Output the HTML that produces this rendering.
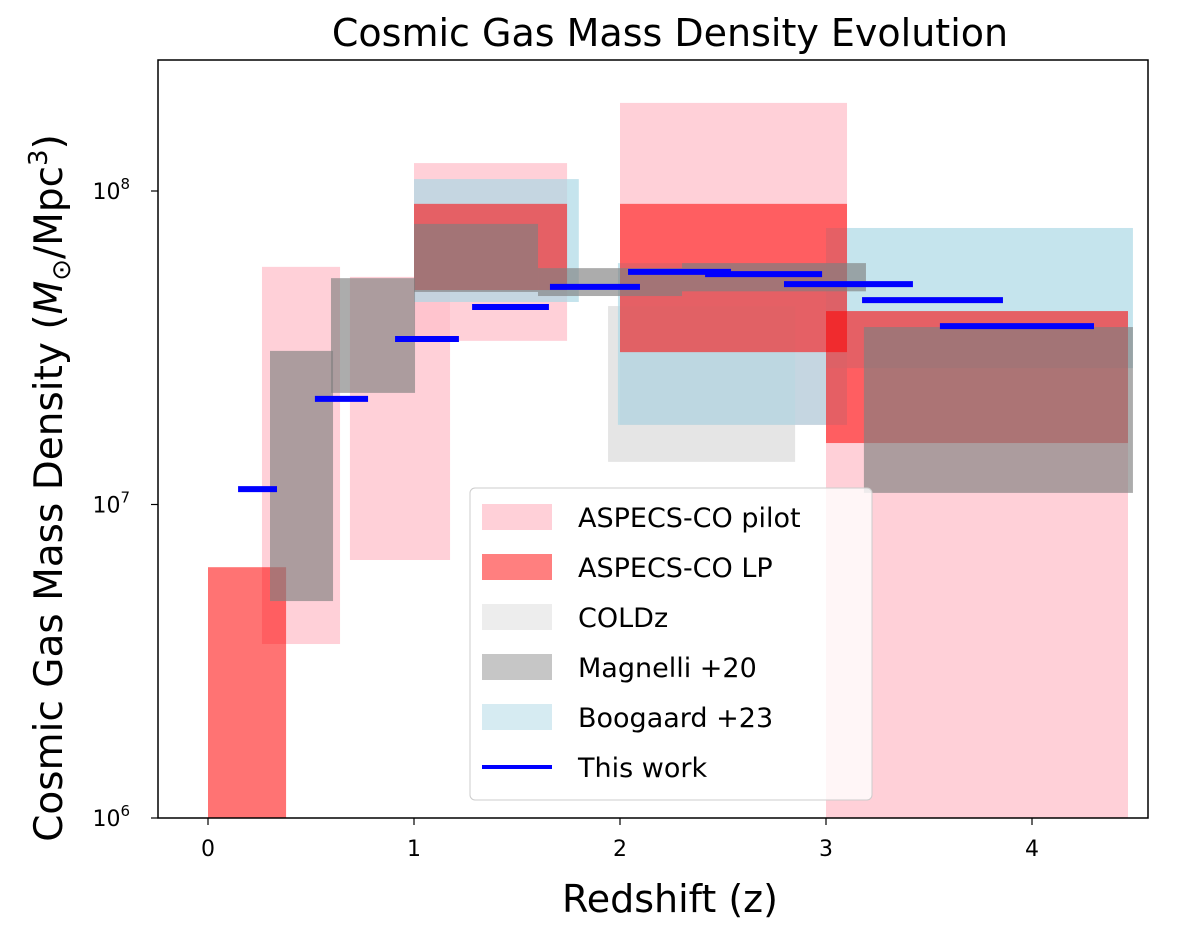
<!DOCTYPE html>
<html><head><meta charset="utf-8"><style>
body{margin:0;background:#fff}
svg text{font-family:"DejaVu Sans","Liberation Sans",sans-serif;fill:#000}
</style></head><body>
<svg id="chart" width="1200" height="926" xmlns="http://www.w3.org/2000/svg">
<text x="670" y="46" font-size="38" text-anchor="middle">Cosmic Gas Mass Density Evolution</text>
<g id="marks"></g>
<rect x="158" y="60" width="990" height="758" fill="none" stroke="#000" stroke-width="1.5"/>
<g id="axes"></g>
<text x="670" y="912" font-size="38" text-anchor="middle">Redshift (z)</text>
<text transform="translate(62,488) rotate(-90)" font-size="39" text-anchor="middle">Cosmic Gas Mass Density (<tspan font-style="italic">M</tspan><tspan font-size="26" dy="8">⊙</tspan><tspan dy="-8">/Mpc</tspan><tspan font-size="26" dy="-15">3</tspan><tspan dy="15">)</tspan></text>
<g id="legend"></g>
</svg>
<script>
// data: [zmin, zmax, log10(low), log10(high)]
const pilotBoxes=[[0.262,0.641,6.555,7.758],[0.689,1.175,6.823,7.726],[1.0,1.743,7.522,8.089],[2.0,3.102,7.254,8.281],[3.0,4.466,6.0,7.617]];
const lpBoxes=[[0.0,0.379,6.0,6.80],[1.0,1.743,7.684,7.959],[2.0,3.102,7.486,7.959],[3.0,4.466,7.196,7.617]];
const coldzBoxes=[[1.942,2.85,7.136,7.633]];
const magnelliBoxes=[[0.301,0.607,6.692,7.490],[0.597,1.005,7.356,7.722],[1.0,1.602,7.678,7.895],[1.602,2.301,7.665,7.754],[2.301,3.194,7.68,7.77],[3.184,4.49,7.037,7.566]];
const boogaardBoxes=[[1.0,1.80,7.646,8.038],[1.99,3.102,7.254,7.77],[3.0,4.49,7.435,7.882]];
const thisWorkZ=[[0.146,0.335],[0.519,0.777],[0.908,1.218],[1.282,1.655],[1.66,2.097],[2.039,2.539],[2.413,2.981],[2.796,3.422],[3.175,3.859],[3.553,4.301]];
const thisWorkLog=[7.049,7.337,7.528,7.630,7.694,7.742,7.735,7.703,7.652,7.569];
const xTicks=[0,1,2,3,4];
const yTicks=[6,7,8];

const NS="http://www.w3.org/2000/svg";
const X=z=>208+206*z;
const Y=l=>818-313.5*(l-6);
function mk(t,a,p){const e=document.createElementNS(NS,t);for(const k in a)e.setAttribute(k,a[k]);p.appendChild(e);return e;}
const marks=document.getElementById('marks');
const series=[[pilotBoxes,'#ffc0cb',0.75,'pilot-box'],[coldzBoxes,'#d3d3d3',0.6,'coldz-box'],[boogaardBoxes,'#add8e6',0.7,'boogaard-box'],[lpBoxes,'#ff0000',0.55,'lp-box'],[magnelliBoxes,'#808080',0.65,'magnelli-box']];
series.forEach(([arr,c,o,n])=>arr.forEach((b,i)=>{
 const r=mk('rect',{x:X(b[0]),y:Y(b[3]),width:X(b[1])-X(b[0]),height:Y(b[2])-Y(b[3]),fill:c,'fill-opacity':o},marks);
 
 
}));
thisWorkZ.forEach((z,i)=>{
 const l=mk('line',{x1:X(z[0]),x2:X(z[1]),y1:Y(thisWorkLog[i]),y2:Y(thisWorkLog[i]),stroke:'#0000ff','stroke-width':6},marks);
 
 
});
const ax=document.getElementById('axes');
xTicks.forEach(t=>{
 mk('line',{x1:X(t),x2:X(t),y1:818,y2:825,stroke:'#000','stroke-width':1.2},ax);
 const tx=mk('text',{x:X(t),y:856,'font-size':22,'text-anchor':'middle'},ax);tx.textContent=t;
 
 
});
yTicks.forEach(t=>{
 mk('line',{x1:151,x2:158,y1:Y(t),y2:Y(t),stroke:'#000','stroke-width':1.2},ax);
 const tx=mk('text',{x:130,y:Y(t)+8,'font-size':22,'text-anchor':'end'},ax);tx.textContent='10';
 const s=mk('tspan',{'font-size':15,dy:-10},tx);s.textContent=t;
 
 
});
const lg=document.getElementById('legend');
const box=mk('rect',{x:470,y:488,width:402,height:312,rx:5,fill:'#fff','fill-opacity':0.8,stroke:'#ccc'},lg);


const items=[['ASPECS-CO pilot','#ffc0cb',0.75],['ASPECS-CO LP','#ff0000',0.5],['COLDz','#d3d3d3',0.4],['Magnelli +20','#808080',0.45],['Boogaard +23','#add8e6',0.5],['This work','#0000ff',1]];
items.forEach((it,i)=>{
 const y=517+50*i;
 if(i<5) mk('rect',{x:482,y:y-13,width:70,height:26,fill:it[1],'fill-opacity':it[2]},lg);
 else mk('line',{x1:482,x2:552,y1:y,y2:y,stroke:it[1],'stroke-width':4},lg);
 const t=mk('text',{x:578,y:y+10,'font-size':27},lg);t.textContent=it[0];
 
 
});
</script>
</body></html>
